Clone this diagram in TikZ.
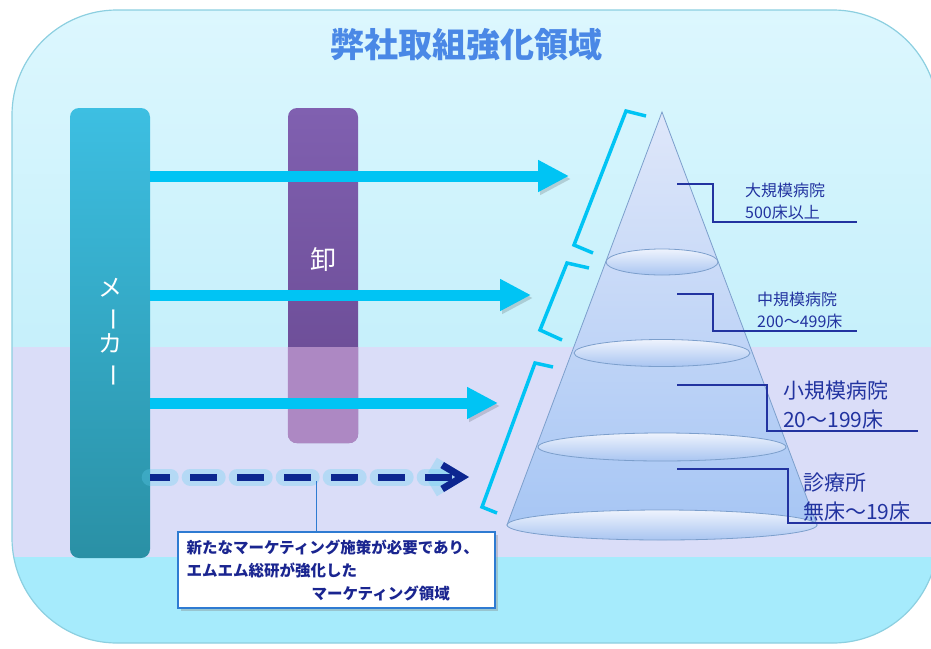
\documentclass[tikz,border=0pt]{standalone}
\usepackage{fontspec}
\setmainfont{Noto Sans CJK JP}
\usepackage{tikz}
\usetikzlibrary{arrows.meta,shapes.geometric,shadows}
\definecolor{skytop}{HTML}{DDF7FE}
\definecolor{skymid}{HTML}{C6F0FB}
\definecolor{lavband}{HTML}{DADDF8}
\definecolor{skylow}{HTML}{A6EBFC}
\definecolor{frameline}{HTML}{8CCFE0}
\definecolor{makertop}{HTML}{3DBFE2}
\definecolor{makerbot}{HTML}{2A90A5}
\definecolor{oroshitop}{HTML}{8060B0}
\definecolor{oroshibot}{HTML}{674890}
\definecolor{oroshilow}{HTML}{AD88C3}
\definecolor{flowcyan}{HTML}{00C4F4}
\definecolor{dashnavy}{HTML}{0D2690}
\definecolor{glowcyan}{HTML}{5FD0F0}
\definecolor{conetop}{HTML}{DFE7FA}
\definecolor{conebot}{HTML}{A7C6F4}
\definecolor{coneline}{HTML}{7C9FCC}
\definecolor{ringtop}{HTML}{EEF3FD}
\definecolor{ringbot}{HTML}{A9C5F1}
\definecolor{leadblue}{HTML}{2233A0}
\definecolor{titleblue}{HTML}{4A88E6}
\definecolor{notebord}{HTML}{2E7BD2}
\definecolor{notetext}{HTML}{1A2590}
\tikzstyle{maker}=[rectangle,rounded corners=9pt,minimum width=80pt,minimum height=450pt,top color=makertop,bottom color=makerbot,text=white,font=\fontsize{24}{28}\selectfont,align=center]
\tikzstyle{wholesaler}=[rectangle,rounded corners=9pt,minimum width=70pt,minimum height=335pt,top color=oroshitop,bottom color=oroshibot]
\tikzstyle{oroshitext}=[text=white,font=\fontsize{26}{28}\selectfont]
\tikzstyle{flow}=[-{Triangle[length=31pt,width=30pt]},draw=flowcyan,line width=11pt,preaction={draw=black,opacity=.15,transform canvas={xshift=2pt,yshift=-3pt}}]
\tikzstyle{newglow}=[-{Straight Barb[length=20pt,width=24pt]},draw=glowcyan,line width=17pt,opacity=.3,line cap=round,dash pattern=on 27pt off 20pt,dash phase=7pt]
\tikzstyle{newflow}=[-{Straight Barb[length=20pt,width=24pt]},draw=dashnavy,line width=7pt,dash pattern=on 27pt off 20pt,dash phase=7pt]
\tikzstyle{bracket}=[draw=flowcyan,line width=3.5pt]
\tikzstyle{cone}=[top color=conetop,bottom color=conebot,draw=coneline,line width=0.8pt]
\tikzstyle{ring}=[ellipse,top color=ringtop,bottom color=ringbot,draw=coneline,line width=0.8pt,inner sep=0pt]
\tikzstyle{leader}=[draw=leadblue,line width=1.2pt]
\tikzstyle{sizetag}=[text=leadblue,font=\fontsize{16}{22}\selectfont,align=left,inner sep=2pt,anchor=south west]
\tikzstyle{sizetagbig}=[text=leadblue,font=\fontsize{21}{29}\selectfont,align=left,inner sep=2pt,anchor=south west]
\tikzstyle{headline}=[text=titleblue,font=\bfseries\fontsize{34}{38}\selectfont]
\tikzstyle{note}=[rectangle,fill=white,draw=notebord,line width=1.5pt,text width=300pt,inner xsep=8.5pt,minimum height=76pt,text=notetext,font=\bfseries\fontsize{15.5}{23}\selectfont,align=left,drop shadow={shadow xshift=3pt,shadow yshift=-3pt,opacity=.35}]
\tikzstyle{tapline}=[draw=notebord,line width=1pt]
\pgfdeclarelayer{bglayer}
\pgfdeclarelayer{nodelayer}
\pgfdeclarelayer{edgelayer}
\pgfsetlayers{bglayer,nodelayer,edgelayer,main}
\begin{document}
\begin{tikzpicture}[x=1pt,y=-1pt]
	\useasboundingbox (0,0) rectangle (931,648);
	\begin{pgfonlayer}{bglayer}
		\begin{scope}
			\clip [rounded corners=105pt] (12,10) rectangle (938,643);
			\shade [top color=skytop,bottom color=skymid] (0,0) rectangle (940,347);
			\fill [lavband] (0,347) rectangle (940,557);
			\fill [skylow] (0,557) rectangle (940,648);
		\end{scope}
		\draw [draw=frameline,line width=1.2pt,rounded corners=105pt] (12,10) rectangle (938,643);
	\end{pgfonlayer}
	\begin{pgfonlayer}{nodelayer}
		\node [style=headline] (title) at (466,45) {弊社取組強化領域};
		\node [style=maker] (maker) at (110,333) {メ\\\rotatebox[origin=c]{-90}{ー}\\カ\\\rotatebox[origin=c]{-90}{ー}};
		\node [style=wholesaler] (oroshi) at (323,275.5) {};
		\begin{scope}
			\clip (0,347) rectangle (931,648);
			\fill [oroshilow,rounded corners=9pt] (oroshi.south west) rectangle (oroshi.north east);
		\end{scope}
		\node [style=oroshitext] (oroshilabel) at (323,260) {卸};
		% cone
		\coordinate (apex) at (662,112);
		\coordinate (baseL) at (507,525);
		\coordinate (baseR) at (817,525);
		\draw [style=cone] (apex) -- (baseR) -- (baseL) -- cycle;
		\node [style=ring,minimum width=310pt,minimum height=30pt] (base) at (662,525) {};
		\node [style=ring,minimum width=112pt,minimum height=26pt] (ring1) at (662,262) {};
		\node [style=ring,minimum width=176pt,minimum height=27pt] (ring2) at (662,353) {};
		\node [style=ring,minimum width=248pt,minimum height=28pt] (ring3) at (662,447) {};
		\node [style=sizetag,text width=110pt] (bighosp) at (743,222) {大規模病院\\500床以上};
		\node [style=sizetag,text width=98pt] (midhosp) at (755,331) {中規模病院\\200～499床};
		\node [style=sizetagbig,text width=133pt] (smallhosp) at (781,431) {小規模病院\\20～199床};
		\node [style=sizetagbig,text width=130pt] (clinic) at (801,523) {診療所\\無床～19床};
		\node [style=note] (note) at (336.5,570) {新たなマーケティング施策が必要であり、\\エムエム総研が強化した\\\hspace*{125pt}マーケティング領域};
		\coordinate (lead1) at (677,184);
		\coordinate (lead2) at (677,294);
		\coordinate (lead3) at (677,385);
		\coordinate (lead4) at (677,469);
		\coordinate (tip1) at (569,176);
		\coordinate (tip2) at (531,295);
		\coordinate (tip3) at (498,403);
		\coordinate (tip4) at (469,477);
		\coordinate (tap) at (316,481);
	\end{pgfonlayer}
	\begin{pgfonlayer}{edgelayer}
		\draw [style=flow] (maker.east |- tip1) -- (tip1);
		\draw [style=flow] (maker.east |- tip2) -- (tip2);
		\draw [style=flow] (maker.east |- tip3) -- (tip3);
		\draw [style=newglow] (maker.east |- tip4) -- (tip4);
		\draw [style=newflow] (maker.east |- tip4) -- (tip4);
		\draw [style=tapline] (tap) -- (tap |- note.north);
		\draw [style=bracket] (646,116) -- (626,111) -- (574,245) -- (593,253);
		\draw [style=bracket] (589,268) -- (567,263) -- (540,330) -- (562,340);
		\draw [style=bracket] (553,367) -- (535,363) -- (482,507) -- (497,513);
		\draw [style=leader] (lead1) -- ++(36,0) |- (bighosp.south east);
		\draw [style=leader] (lead2) -- ++(36,0) |- (midhosp.south east);
		\draw [style=leader] (lead3) -- ++(90,0) |- (smallhosp.south east);
		\draw [style=leader] (lead4) -- ++(111,0) |- (clinic.south east);
	\end{pgfonlayer}
\end{tikzpicture}
\end{document}
